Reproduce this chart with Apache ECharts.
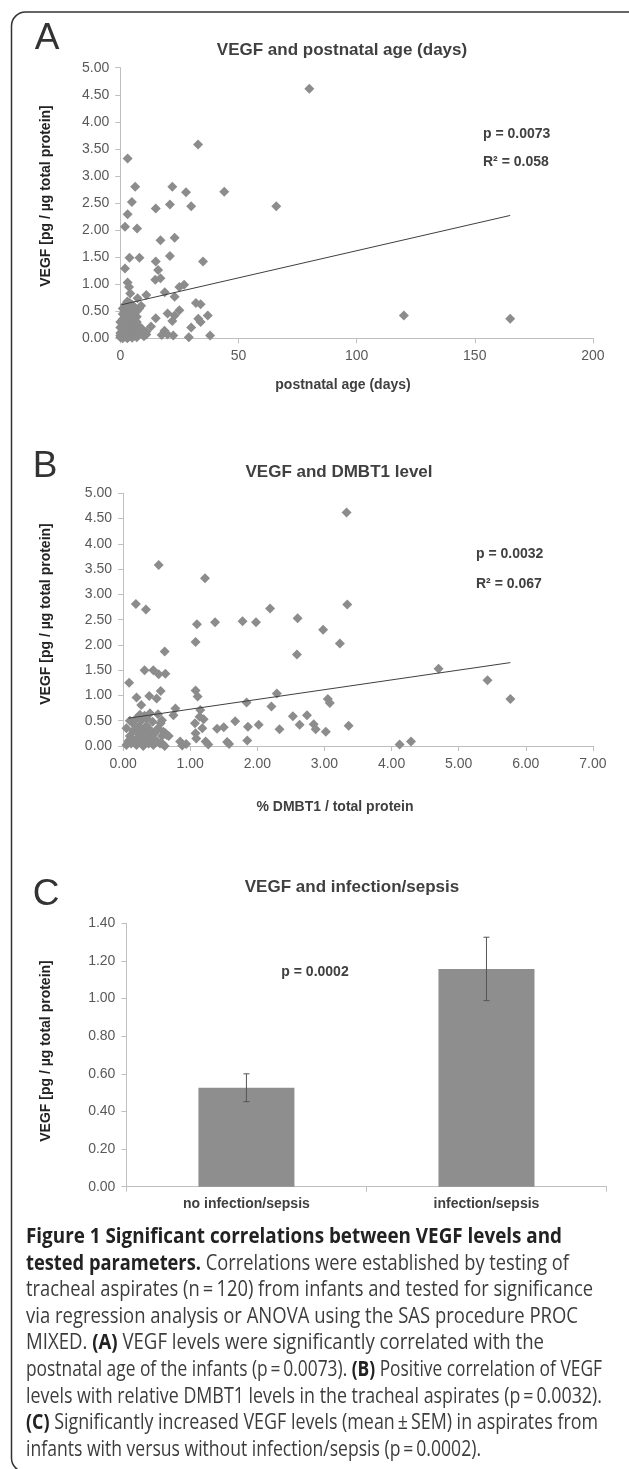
<!DOCTYPE html>
<html>
<head>
<meta charset="utf-8">
<script src="https://cdn.jsdelivr.net/npm/echarts@6/dist/echarts.min.js"></script>
<style>
html,body{margin:0;padding:0;background:#fff;}
#c{width:629px;height:1469px;}
</style>
</head>
<body>
<div id="c"></div>
<script>
// ---------- DATA ----------
// Panel A: postnatal age (days) vs VEGF
const ageVegfA = [
  [80,4.61],[32.9,3.58],[3.1,3.32],[6.3,2.80],[22,2.80],[27.8,2.70],[44,2.71],[4.9,2.52],[15,2.40],[21,2.47],
  [30,2.44],[66,2.44],[3.1,2.29],[2,2.06],[7.1,2.03],[23,1.86],[17,1.81],[21,1.52],[3.9,1.49],[8.1,1.49],
  [15,1.42],[35,1.42],[2,1.29],[16,1.26],[14.8,1.08],[17,1.11],[3.1,1.03],[3.7,0.95],[4.2,0.83],[27,0.99],
  [25,0.95],[11,0.80],[18.8,0.85],[23,0.77],[7.3,0.74],[8.8,0.60],[32,0.65],[34,0.63],[120,0.42],[165,0.36],
  [25,0.52],[20,0.46],[23,0.42],[15,0.37],[22,0.32],[33,0.36],[34,0.30],[37,0.42],[13,0.22],[30,0.20],
  [11,0.12],[11,0.07],[18.7,0.14],[17.5,0.06],[20,0.07],[22.4,0.05],[29,0.02],[38,0.05],
  [0,0.02],[0,0.10],[0,0.20],[0,0.30],[0,0.05],
  [1,0.00],[1,0.08],[1,0.15],[1,0.25],[1,0.35],[1,0.45],[1,0.55],
  [2,0.03],[2,0.12],[2,0.22],[2,0.32],[2,0.42],[2,0.50],[2,0.62],
  [3,0.00],[3,0.07],[3,0.18],[3,0.28],[3,0.38],[3,0.48],[3,0.58],[3,0.68],
  [4,0.04],[4,0.14],[4,0.24],[4,0.34],[4,0.44],[4,0.55],[4,0.65],
  [5,0.01],[5,0.10],[5,0.20],[5,0.31],[5,0.40],[5,0.52],[5,0.62],
  [6,0.05],[6,0.16],[6,0.27],[6,0.37],[6,0.47],[6,0.57],
  [7,0.02],[7,0.12],[7,0.30],[7,0.40],[7,0.50],
  [8,0.08],[8,0.22],[8,0.55],[9,0.18],[10,0.04]
];
const trendA = [[0.5,0.62],[165,2.27]];
const statsA = ['p = 0.0073','R\u00B2 = 0.058'];

// Panel B: % DMBT1 vs VEGF
const dmbtVegfB = [
  [3.33,4.62],[0.53,3.58],[1.22,3.32],[0.19,2.81],[0.34,2.70],[3.34,2.80],[2.19,2.72],[2.60,2.53],[1.10,2.41],[1.37,2.45],
  [1.78,2.47],[1.98,2.45],[2.98,2.30],[1.08,2.06],[3.23,2.03],[0.62,1.87],[2.59,1.81],[0.32,1.50],[0.45,1.50],[0.53,1.42],
  [0.63,1.43],[4.70,1.53],[5.43,1.30],[0.09,1.25],[5.77,0.93],[1.08,1.10],[1.11,0.98],[0.56,1.09],[0.20,0.96],[0.39,0.99],
  [0.50,0.94],[0.27,0.81],[2.29,1.04],[3.05,0.93],[3.08,0.85],[1.84,0.86],[2.21,0.78],[0.78,0.74],[0.75,0.61],[1.67,0.49],
  [2.53,0.59],[2.74,0.61],[2.63,0.42],[2.84,0.43],[2.87,0.33],[3.02,0.28],[3.36,0.40],[1.86,0.38],[2.02,0.42],[2.33,0.33],
  [1.40,0.34],[1.50,0.37],[1.85,0.11],[1.55,0.08],[1.58,0.04],[4.12,0.03],[4.29,0.09],[1.15,0.71],[1.14,0.58],[1.20,0.53],
  [1.07,0.45],[1.18,0.35],[1.08,0.25],[1.09,0.15],[1.23,0.09],[1.27,0.03],[0.85,0.09],[0.94,0.04],[0.88,0.01],[0.52,0.63],
  [0.58,0.51],[0.56,0.45],[0.63,0.25],[0.68,0.20],[0.59,0.04],
  [0.05,0.02],[0.08,0.10],[0.10,0.20],[0.12,0.05],[0.15,0.30],[0.15,0.45],[0.18,0.12],[0.20,0.55],[0.20,0.02],[0.22,0.25],
  [0.24,0.38],[0.25,0.08],[0.27,0.50],[0.28,0.18],[0.30,0.00],[0.30,0.30],[0.32,0.60],[0.33,0.12],[0.35,0.40],[0.36,0.22],
  [0.38,0.05],[0.40,0.32],[0.40,0.65],[0.42,0.15],[0.44,0.48],[0.45,0.02],[0.47,0.25],[0.50,0.10],[0.52,0.35],[0.55,0.05],
  [0.58,0.20],[0.60,0.28],[0.62,0.00],[0.65,0.22],[0.05,0.35],[0.10,0.50],[0.25,0.62],[0.18,0.40],[0.35,0.55]
];
const trendB = [[0.08,0.55],[5.77,1.65]];
const statsB = ['p = 0.0032','R\u00B2 = 0.067'];

// Panel C: infection/sepsis
const catsC = ['no infection/sepsis','infection/sepsis'];
const meanC = [0.526, 1.157];
const semLowC = [0.452, 0.989];
const semHighC = [0.600, 1.326];
const statC = 'p = 0.0002';

// Tick labels
const xTicksA = [0,50,100,150,200];
const yTicksAB = [0,0.5,1,1.5,2,2.5,3,3.5,4,4.5,5];
const xTicksB = [0,1,2,3,4,5,6,7];
const yTicksC = [0,0.2,0.4,0.6,0.8,1.0,1.2,1.4];

// Texts
const titles = ['VEGF and postnatal age (days)','VEGF and DMBT1 level','VEGF and infection/sepsis'];
const letters = ['A','B','C'];
const yName = 'VEGF [pg / \u00B5g total protein]';
const xNames = ['postnatal age (days)','% DMBT1 / total protein'];
const captionLines = [
  '{h|Figure 1 Significant correlations between VEGF levels and}',
  '{h|tested parameters.} Correlations were established by testing of',
  'tracheal aspirates (n\u2009=\u2009120) from infants and tested for significance',
  'via regression analysis or ANOVA using the SAS procedure PROC',
  'MIXED. {b|(A)} VEGF levels were significantly correlated with the',
  'postnatal age of the infants (p\u2009=\u20090.0073). {b|(B)} Positive correlation of VEGF',
  'levels with relative DMBT1 levels in the tracheal aspirates (p\u2009=\u20090.0032).',
  '{b|(C)} Significantly increased VEGF levels (mean\u2009\u00B1\u2009SEM) in aspirates from',
  'infants with versus without infection/sepsis (p\u2009=\u20090.0002).'
];
const captionWidths = [536, 543, 567, 552, 518, 576, 576, 572, 455];

// ---------- LAYOUT ----------
const AX = '#bfbfbf', LBL = '#595959', TXT = '#404040', MARK = '#8c8c8c';
const F = 'Liberation Sans, Arial, sans-serif';
const CAPF = '"Open Sans", "Noto Sans", sans-serif';

function step(a){ return a[1]-a[0]; }
function fmt2(v){ return v.toFixed(2); }

function valueAxis(gi, ticks, fmt){
  return {
    type:'value', gridIndex:gi, min:ticks[0], max:ticks[ticks.length-1], interval:step(ticks),
    axisLine:{show:true, lineStyle:{color:AX, width:1}},
    axisTick:{show:true, inside:false, length:5, lineStyle:{color:AX}},
    splitLine:{show:false},
    axisLabel:{color:LBL, fontFamily:F, fontSize:14, margin:11, formatter:fmt}
  };
}

// caption per-line horizontal fit
const CAP_SIZE = 21;
const mctx = document.createElement('canvas').getContext('2d');
function richWidth(line){
  let w = 0; const re = /\{(\w)\|([^}]*)\}|([^{]+)/g; let m;
  while ((m = re.exec(line))){
    if (m[1]) { mctx.font = 'bold ' + CAP_SIZE + 'px "Open Sans"'; w += mctx.measureText(m[2]).width; }
    else { mctx.font = CAP_SIZE + 'px "Open Sans"'; w += mctx.measureText(m[3]).width; }
  }
  return w;
}

const graphics = [];
graphics.push({type:'rect', shape:{x:11.5, y:12, width:640, height:1460, r:14}, style:{fill:'none', stroke:'#333', lineWidth:1.5}, silent:true});
const letterPos = [[47,39],[45,467],[46,895]];
letters.forEach((t,i)=>graphics.push({type:'text', x:letterPos[i][0], y:letterPos[i][1], style:{text:t, fontSize:37, fontFamily:F, fontWeight:'normal', fill:'#333', align:'center', verticalAlign:'middle'}}));
const titlePos = [[342,50],[339,472],[352,887]];
titles.forEach((t,i)=>graphics.push({type:'text', x:titlePos[i][0], y:titlePos[i][1], style:{text:t, fontSize:17, fontFamily:F, fontWeight:'bold', fill:TXT, align:'center', verticalAlign:'middle'}}));
const yNamePos = [[46,196],[46,614],[46,1051]];
yNamePos.forEach(p=>graphics.push({type:'text', x:p[0], y:p[1], rotation:Math.PI/2, style:{text:yName, fontSize:14, fontFamily:F, fontWeight:'bold', fill:'#222', align:'center', verticalAlign:'middle'}}));
const xNamePos = [[343,385],[335,807]];
xNames.forEach((t,i)=>graphics.push({type:'text', x:xNamePos[i][0], y:xNamePos[i][1], style:{text:t, fontSize:14, fontFamily:F, fontWeight:'bold', fill:TXT, align:'center', verticalAlign:'middle'}}));
const statPos = [[483,134],[483,162],[476,554],[476,584]];
statsA.concat(statsB).forEach((t,i)=>graphics.push({type:'text', x:statPos[i][0], y:statPos[i][1], style:{text:t, fontSize:14, fontFamily:F, fontWeight:'bold', fill:TXT, align:'left', verticalAlign:'middle'}}));
graphics.push({type:'text', x:315, y:972, style:{text:statC, fontSize:14, fontFamily:F, fontWeight:'bold', fill:TXT, align:'center', verticalAlign:'middle'}});
captionLines.forEach((t,i)=>graphics.push({type:'text', x:26, y:1237 + i*26.6, scaleX:captionWidths[i]/richWidth(t), style:{
  text:t, fontSize:CAP_SIZE, fontFamily:CAPF, fill:'#3c3c3c', align:'left', verticalAlign:'middle',
  rich:{h:{fontSize:CAP_SIZE, fontFamily:CAPF, fontWeight:'bold', fill:'#222'}, b:{fontSize:CAP_SIZE, fontFamily:CAPF, fontWeight:'bold', fill:'#222'}}
}}));

const chart = echarts.init(document.getElementById('c'), null, {renderer:'canvas'});
chart.setOption({
  backgroundColor:'#fff',
  animation:false,
  grid:[
    {left:120.3, top:67.7, width:472.6, height:270.6},
    {left:123.1, top:493.3, width:469.8, height:252.7},
    {left:126.4, top:923.3, width:480.1, height:263.4}
  ],
  xAxis:[
    valueAxis(0, xTicksA, v=>String(v)),
    valueAxis(1, xTicksB, fmt2),
    {type:'category', gridIndex:2, data:catsC,
     axisLine:{show:true, lineStyle:{color:AX}}, axisTick:{show:true, length:5, alignWithLabel:false, lineStyle:{color:AX}},
     axisLabel:{color:'#404040', fontFamily:F, fontSize:14, fontWeight:'bold', margin:10}}
  ],
  yAxis:[
    valueAxis(0, yTicksAB, fmt2),
    valueAxis(1, yTicksAB, fmt2),
    valueAxis(2, yTicksC, fmt2)
  ],
  graphic:graphics,
  series:[
    {type:'scatter', xAxisIndex:0, yAxisIndex:0, data:ageVegfA, symbol:'diamond', symbolSize:10, itemStyle:{color:MARK, opacity:1}, z:2},
    {type:'line', xAxisIndex:0, yAxisIndex:0, data:trendA, showSymbol:false, symbol:'none', lineStyle:{color:'#404040', width:1}, z:3},
    {type:'scatter', xAxisIndex:1, yAxisIndex:1, data:dmbtVegfB, symbol:'diamond', symbolSize:10, itemStyle:{color:MARK, opacity:1}, z:2},
    {type:'line', xAxisIndex:1, yAxisIndex:1, data:trendB, showSymbol:false, symbol:'none', lineStyle:{color:'#404040', width:1}, z:3},
    {type:'bar', xAxisIndex:2, yAxisIndex:2, data:meanC, barCategoryGap:'60%', itemStyle:{color:'#8e8e8e'}, z:2},
    {type:'custom', xAxisIndex:2, yAxisIndex:2, z:4,
     data:catsC.map((c,i)=>[i, semLowC[i], semHighC[i]]),
     encode:{x:0, y:[1,2]},
     renderItem:function(params, api){
       const lo = api.coord([api.value(0), api.value(1)]);
       const hi = api.coord([api.value(0), api.value(2)]);
       const w = 3, st = {stroke:'#555', lineWidth:1};
       return {type:'group', children:[
         {type:'line', shape:{x1:lo[0], y1:lo[1], x2:hi[0], y2:hi[1]}, style:st},
         {type:'line', shape:{x1:lo[0]-w, y1:lo[1], x2:lo[0]+w, y2:lo[1]}, style:st},
         {type:'line', shape:{x1:hi[0]-w, y1:hi[1], x2:hi[0]+w, y2:hi[1]}, style:st}
       ]};
     }}
  ]
});
</script>
</body>
</html>
